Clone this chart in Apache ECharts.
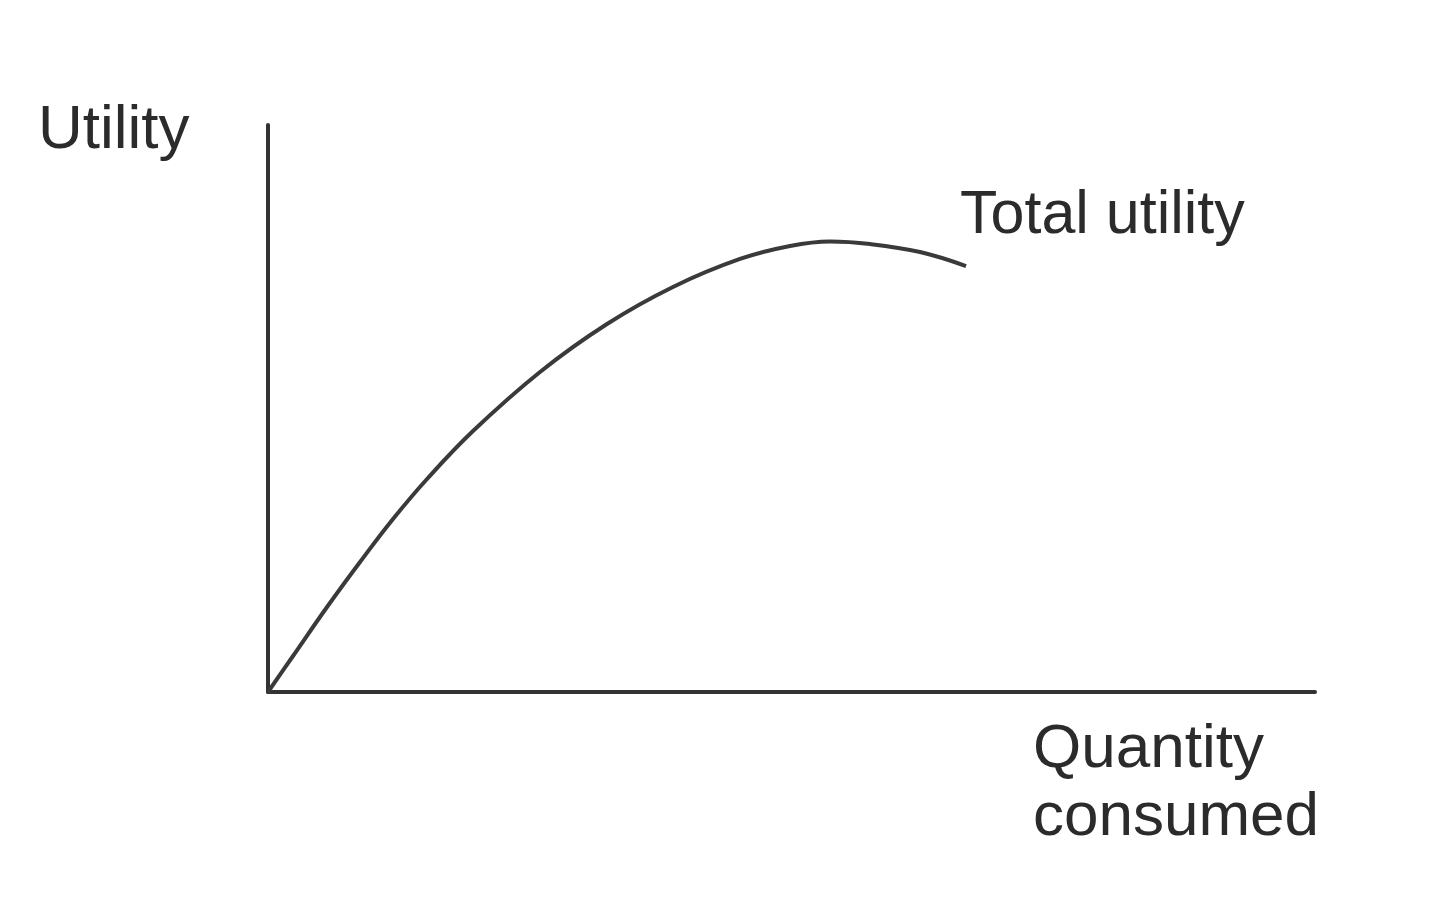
<!DOCTYPE html>
<html>
<head>
<meta charset="utf-8">
<script src="https://cdn.jsdelivr.net/npm/echarts@6/dist/echarts.min.js"></script>
<style>
html,body{margin:0;padding:0;background:#fff;}
#chart{width:1440px;height:920px;}
</style>
</head>
<body>
<div id="chart"></div>
<script>
// Quantity consumed (x) and total utility (y) (arbitrary units 0-100)
const quantity = [0, 2.39, 5.64, 8.79, 11.94, 15.19, 19.58, 25.98, 32.38, 38.68, 45.08, 49.86, 53.68, 57.50, 62.27, 66.67];
const totalUtility = [0, 6.35, 14.99, 22.93, 30.51, 37.57, 46.03, 56.44, 64.90, 71.43, 76.37, 78.66, 79.45, 79.01, 77.60, 75.13];
const seriesName = 'Total utility';
const yTitle = 'Utility';
const xTitle = 'Quantity\nconsumed';

const chart = echarts.init(document.getElementById('chart'));
const fontFamily = '"Liberation Sans", Arial, sans-serif';
const textColor = '#2b2b2b';

chart.setOption({
  animation: false,
  backgroundColor: '#fff',
  grid: { left: 268, right: 125, top: 125, bottom: 228 },
  xAxis: {
    type: 'value', min: 0, max: 100,
    axisLine: { show: true, lineStyle: { color: '#333', width: 4 } },
    axisTick: { show: false }, axisLabel: { show: false }, splitLine: { show: false }
  },
  yAxis: {
    type: 'value', min: 0, max: 100,
    axisLine: { show: true, lineStyle: { color: '#333', width: 4 } },
    axisTick: { show: false }, axisLabel: { show: false }, splitLine: { show: false }
  },
  series: [{
    name: seriesName,
    type: 'line',
    smooth: 0.4,
    symbol: 'none',
    data: quantity.map((q, i) => [q, totalUtility[i]]),
    lineStyle: { color: '#3a3a3a', width: 4 },
    endLabel: {
      show: true,
      formatter: seriesName,
      distance: 0,
      offset: [-6, -50],
      color: textColor,
      fontSize: 61,
      fontFamily: fontFamily
    }
  }],
  graphic: [
    {
      type: 'text', left: 38, top: 100,
      style: { text: yTitle, fill: textColor, font: '62px ' + fontFamily }
    },
    {
      type: 'text', left: 1033, top: 716,
      style: { text: xTitle, fill: textColor, font: '62px ' + fontFamily, lineHeight: 68 }
    }
  ]
});
</script>
</body>
</html>
